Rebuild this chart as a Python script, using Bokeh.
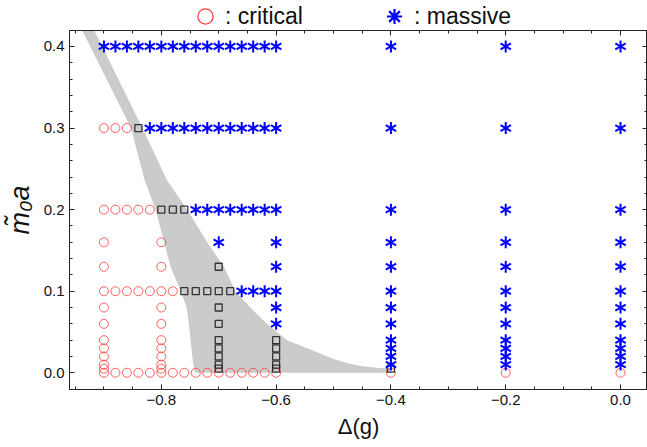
import numpy as np
from bokeh.plotting import figure
from bokeh.layouts import column
from bokeh.models import (Range1d, LinearAxis, FixedTicker, Legend, LegendItem,
                          CustomJSTickFormatter)
from bokeh.embed import file_html
from bokeh.resources import INLINE

# ---------------- data ----------------
x_ticks = [-0.8, -0.6, -0.4, -0.2, 0.0]
x_tick_labels = ["\u22120.8", "\u22120.6", "\u22120.4", "\u22120.2", "0.0"]
y_ticks = [0.0, 0.1, 0.2, 0.3, 0.4]
y_tick_labels = ["0.0", "0.1", "0.2", "0.3", "0.4"]

critical_points = [
    (-0.90, 0.3), (-0.88, 0.3), (-0.86, 0.3),
    (-0.90, 0.2), (-0.88, 0.2), (-0.86, 0.2), (-0.84, 0.2), (-0.82, 0.2),
    (-0.90, 0.16), (-0.80, 0.16),
    (-0.90, 0.13), (-0.80, 0.13),
    (-0.90, 0.1), (-0.88, 0.1), (-0.86, 0.1), (-0.84, 0.1), (-0.82, 0.1), (-0.80, 0.1), (-0.78, 0.1),
    (-0.90, 0.08), (-0.80, 0.08),
    (-0.90, 0.06), (-0.80, 0.06),
    (-0.90, 0.04), (-0.80, 0.04),
    (-0.90, 0.03), (-0.80, 0.03),
    (-0.90, 0.02), (-0.80, 0.02),
    (-0.90, 0.01), (-0.80, 0.01),
    (-0.90, 0.005), (-0.80, 0.005),
    (-0.90, 0.0), (-0.88, 0.0), (-0.86, 0.0), (-0.84, 0.0), (-0.82, 0.0), (-0.80, 0.0),
    (-0.78, 0.0), (-0.76, 0.0), (-0.74, 0.0), (-0.72, 0.0), (-0.70, 0.0), (-0.68, 0.0),
    (-0.66, 0.0), (-0.64, 0.0), (-0.62, 0.0), (-0.60, 0.0),
    (-0.40, 0.0), (-0.20, 0.0), (0.00, 0.0),
]

transition_points = [
    (-0.84, 0.3),
    (-0.80, 0.2), (-0.78, 0.2), (-0.76, 0.2),
    (-0.70, 0.13),
    (-0.76, 0.1), (-0.74, 0.1), (-0.72, 0.1), (-0.70, 0.1), (-0.68, 0.1),
    (-0.70, 0.08), (-0.70, 0.06),
    (-0.70, 0.04), (-0.60, 0.04),
    (-0.70, 0.03), (-0.60, 0.03),
    (-0.70, 0.02), (-0.60, 0.02),
    (-0.70, 0.01), (-0.60, 0.01),
    (-0.70, 0.005), (-0.60, 0.005), (-0.40, 0.005),
]

massive_points = [
    (-0.90, 0.4), (-0.88, 0.4), (-0.86, 0.4), (-0.84, 0.4), (-0.82, 0.4), (-0.80, 0.4),
    (-0.78, 0.4), (-0.76, 0.4), (-0.74, 0.4), (-0.72, 0.4), (-0.70, 0.4), (-0.68, 0.4),
    (-0.66, 0.4), (-0.64, 0.4), (-0.62, 0.4), (-0.60, 0.4),
    (-0.40, 0.4), (-0.20, 0.4), (0.00, 0.4),
    (-0.82, 0.3), (-0.80, 0.3), (-0.78, 0.3), (-0.76, 0.3), (-0.74, 0.3), (-0.72, 0.3),
    (-0.70, 0.3), (-0.68, 0.3), (-0.66, 0.3), (-0.64, 0.3), (-0.62, 0.3), (-0.60, 0.3),
    (-0.40, 0.3), (-0.20, 0.3), (0.00, 0.3),
    (-0.74, 0.2), (-0.72, 0.2), (-0.70, 0.2), (-0.68, 0.2), (-0.66, 0.2), (-0.64, 0.2),
    (-0.62, 0.2), (-0.60, 0.2),
    (-0.40, 0.2), (-0.20, 0.2), (0.00, 0.2),
    (-0.70, 0.16), (-0.60, 0.16), (-0.40, 0.16), (-0.20, 0.16), (0.00, 0.16),
    (-0.60, 0.13), (-0.40, 0.13), (-0.20, 0.13), (0.00, 0.13),
    (-0.66, 0.1), (-0.64, 0.1), (-0.62, 0.1), (-0.60, 0.1), (-0.40, 0.1), (-0.20, 0.1), (0.00, 0.1),
    (-0.60, 0.08), (-0.40, 0.08), (-0.20, 0.08), (0.00, 0.08),
    (-0.60, 0.06), (-0.40, 0.06), (-0.20, 0.06), (0.00, 0.06),
    (-0.40, 0.04), (-0.20, 0.04), (0.00, 0.04),
    (-0.40, 0.03), (-0.20, 0.03), (0.00, 0.03),
    (-0.40, 0.02), (-0.20, 0.02), (0.00, 0.02),
    (-0.40, 0.01), (-0.20, 0.01), (0.00, 0.01),
]

# shaded band: left/lower edge (top -> bottom), right/upper edge (bottom -> top)
band_left_delta = [-0.938, -0.924, -0.853, -0.829, -0.810, -0.795, -0.784, -0.766,
                   -0.756, -0.752, -0.749, -0.746, -0.742]
band_left_m0a = [0.42, 0.40, 0.30, 0.236, 0.20, 0.16, 0.13, 0.10,
                 0.08, 0.06, 0.04, 0.02, 0.0]
band_right_delta = [-0.400, -0.400, -0.420, -0.450, -0.477, -0.500, -0.535, -0.581,
                    -0.616, -0.645, -0.671, -0.691, -0.720, -0.755, -0.790, -0.833,
                    -0.903, -0.917]
band_right_m0a = [0.0, 0.0055, 0.006, 0.008, 0.012, 0.017, 0.027, 0.04,
                  0.06, 0.08, 0.10, 0.13, 0.16, 0.20, 0.236, 0.30,
                  0.40, 0.42]

# ---------------- main figure ----------------
FONT = "Liberation Sans"

p = figure(width=647, height=418,
           x_range=Range1d(-0.96, 0.047), y_range=Range1d(-0.0205, 0.4196),
           output_backend="svg", toolbar_location=None,
           min_border_left=69, min_border_top=1, min_border_bottom=58,
           min_border_right=0)
p.xgrid.visible = False
p.ygrid.visible = False
p.outline_line_color = "#222222"
p.outline_line_width = 1
p.background_fill_color = "white"
p.border_fill_color = "white"

p.patch(band_left_delta + band_right_delta, band_left_m0a + band_right_m0a,
        fill_color="#cbcbcb", line_color=None)

cx, cy = zip(*critical_points)
tx, ty = zip(*transition_points)
mx, my = zip(*massive_points)

CRIT_COLOR = "#ff3b3b"
STAR_COLOR = "#0000ff"
p.scatter(list(cx), list(cy), marker="circle", size=9, fill_color=None,
          line_color=CRIT_COLOR, line_alpha=0.8, line_width=1)
p.scatter(list(tx), list(ty), marker="square", size=7, fill_color=None,
          line_color="#222222", line_alpha=0.9, line_width=1.3)
for ang in (np.pi / 2, np.pi / 6, -np.pi / 6):
    p.scatter(list(mx), list(my), marker="dash", size=12, angle=ang,
              line_color=STAR_COLOR, line_width=2)

x_minor = [round(v, 2) for v in np.arange(-0.95, 0.0451, 0.05)]
y_minor = [round(v, 2) for v in np.arange(-0.02, 0.4201, 0.02)]

JS = ("const i = tick_vals.findIndex(t => Math.abs(t - tick) < 1e-9);"
      " return i >= 0 ? tick_texts[i] : '';")
xfmt = CustomJSTickFormatter(args=dict(tick_vals=x_ticks, tick_texts=x_tick_labels), code=JS)
yfmt = CustomJSTickFormatter(args=dict(tick_vals=y_ticks, tick_texts=y_tick_labels), code=JS)
blank = CustomJSTickFormatter(code="return '';")

def style(ax, ticks, minor, fmt, show):
    ax.ticker = FixedTicker(ticks=ticks, minor_ticks=minor)
    ax.formatter = fmt
    ax.major_tick_in = 5
    ax.major_tick_out = 0
    ax.minor_tick_in = 3
    ax.minor_tick_out = 0
    ax.major_tick_line_color = "#222222"
    ax.minor_tick_line_color = "#222222"
    ax.axis_line_color = "#222222"
    ax.major_label_text_font = FONT
    ax.major_label_text_color = "#111111"
    if show:
        ax.major_label_text_font_size = "15px"
        ax.major_label_standoff = 5
    else:
        ax.major_label_text_font_size = "0px"
        ax.major_label_standoff = 0

xa = p.xaxis[0]
ya = p.yaxis[0]
style(xa, x_ticks, x_minor, xfmt, True)
style(ya, y_ticks, y_minor, yfmt, True)
xa.axis_label = "\u0394(g)"
xa.axis_label_text_font = FONT
xa.axis_label_text_font_size = "22px"
xa.axis_label_text_font_style = "normal"
xa.axis_label_text_color = "#111111"
xa.axis_label_standoff = 6
ya.axis_label = "m\u0303\u2080a"
ya.axis_label_text_font = FONT
ya.axis_label_text_font_size = "27px"
ya.axis_label_text_font_style = "italic"
ya.axis_label_text_color = "#111111"
ya.axis_label_standoff = 6

top = LinearAxis()
style(top, x_ticks, x_minor, blank, False)
p.add_layout(top, "above")
right = LinearAxis()
style(right, y_ticks, y_minor, blank, False)
p.add_layout(right, "right")

# ---------------- legend strip ----------------
strip = figure(width=647, height=29, x_range=Range1d(0, 1), y_range=Range1d(0, 1),
               output_backend="svg", toolbar_location=None, min_border=0,
               x_axis_location=None, y_axis_location=None)
strip.grid.visible = False
strip.outline_line_color = None
strip.border_fill_color = "white"

# legend-only renderers (no visible points)
leg_circle = strip.scatter(x=[np.nan], y=[np.nan], marker="circle", fill_color=None,
                           line_color=CRIT_COLOR, line_width=1.3)
leg_star = strip.scatter(x=[np.nan], y=[np.nan], marker="asterisk",
                         line_color=STAR_COLOR, line_width=2.2)
legend = Legend(items=[LegendItem(label=": critical", renderers=[leg_circle]),
                       LegendItem(label=": massive", renderers=[leg_star])],
                location=(117, -6), orientation="horizontal",
                glyph_width=38, glyph_height=38, label_standoff=1, spacing=72,
                padding=0, margin=0, border_line_color=None,
                background_fill_alpha=0,
                label_text_font=FONT, label_text_font_size="23px",
                label_text_color="#111111")
strip.add_layout(legend)

layout = column(strip, p, spacing=0)
open("out.html", "w").write(file_html(layout, INLINE))
